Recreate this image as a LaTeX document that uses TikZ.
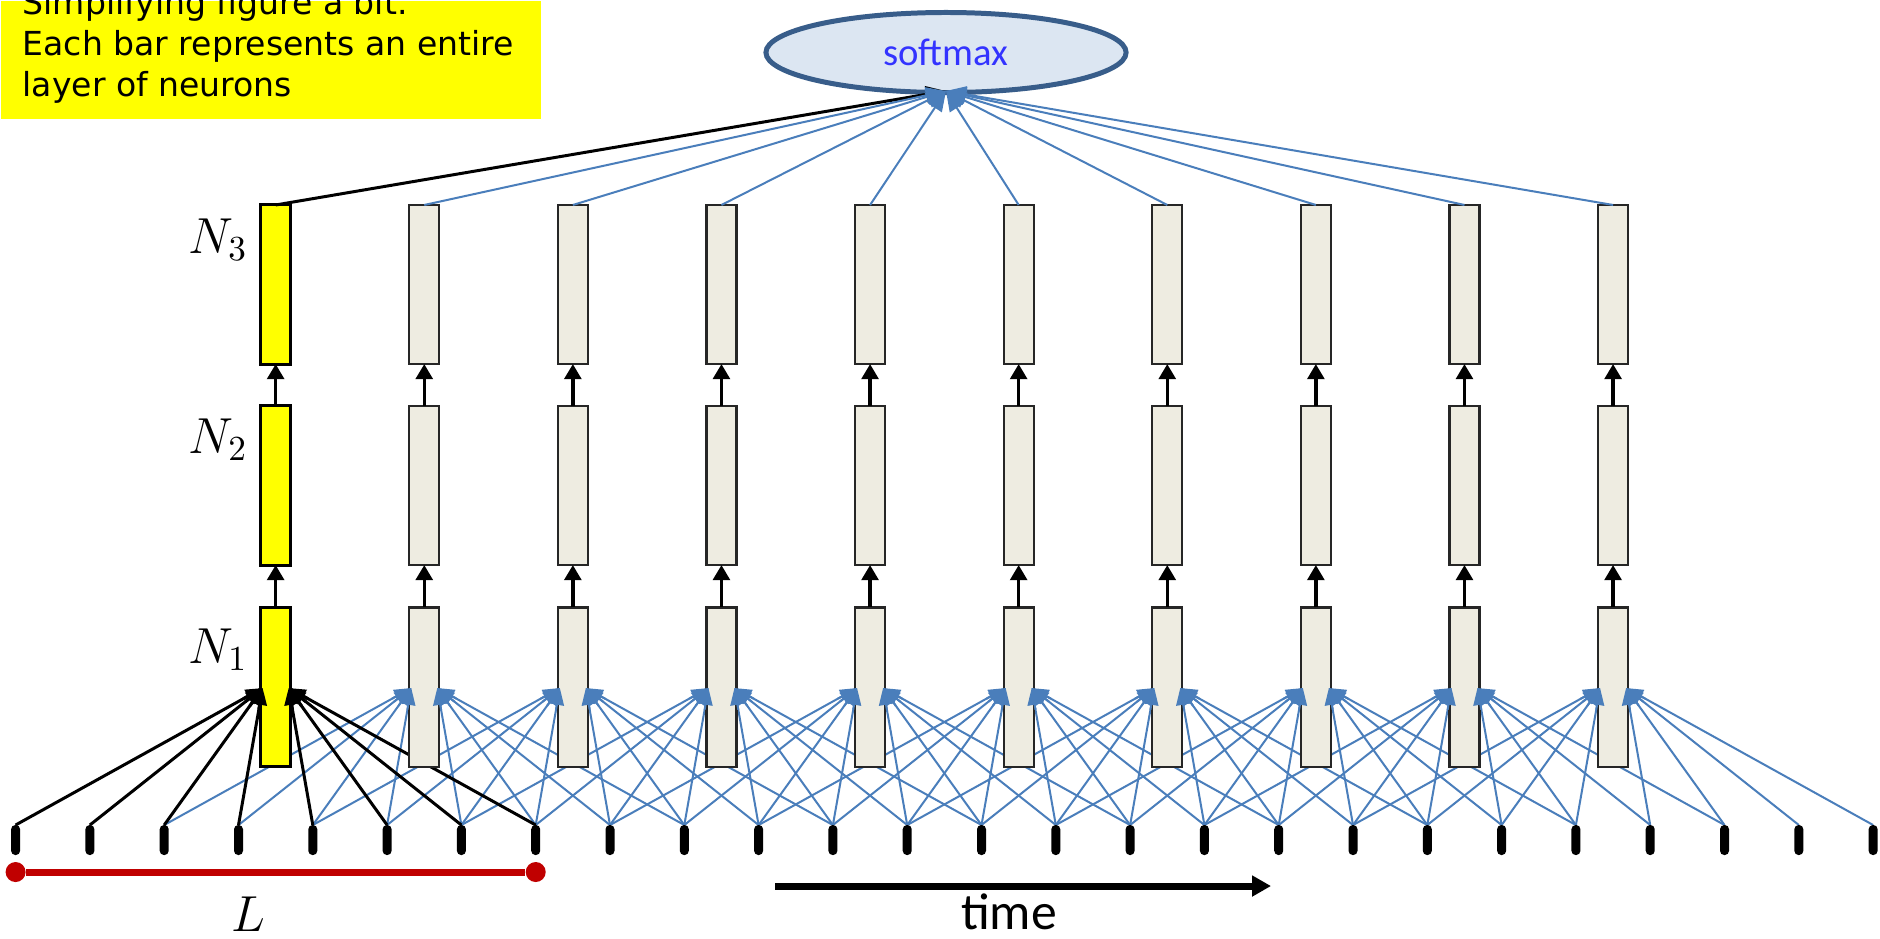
\documentclass[tikz,border=0pt]{standalone}
\usepackage{fontspec}
\newfontfamily\cali{Carlito}
\newfontfamily\comicf{DejaVu Sans}
\usetikzlibrary{arrows.meta,shapes.geometric,calc}
\definecolor{lblue}{RGB}{74,126,187}
\definecolor{smborder}{RGB}{56,93,138}
\definecolor{smfill}{RGB}{220,230,242}
\definecolor{smtext}{RGB}{51,51,255}
\definecolor{bargray}{RGB}{238,236,225}
\definecolor{barborder}{RGB}{38,38,38}
\definecolor{dred}{RGB}{192,0,0}
\definecolor{pyellow}{RGB}{255,255,0}
\pgfdeclarelayer{bg}
\pgfdeclarelayer{lines}
\pgfdeclarelayer{front}
\pgfsetlayers{bg,lines,main,front}
\tikzset{
  tickmark/.style={fill=black, rounded corners=1.2pt, minimum width=0.09cm, minimum height=0.3cm, inner sep=0pt, outer sep=0pt},
  graybar/.style={draw=barborder, fill=bargray, line width=0.6pt, minimum width=0.30cm, minimum height=1.59cm, inner sep=0pt, outer sep=0pt},
  yelbar/.style={draw=black, fill=pyellow, line width=0.85pt, minimum width=0.30cm, minimum height=1.59cm, inner sep=0pt, outer sep=0pt},
  inblue/.style={draw=lblue, line width=0.57pt},
  inblack/.style={draw=black, line width=0.85pt},
  intipblue/.style={-{Triangle[length=4.8pt,width=4pt,color=lblue]}},
  intipblack/.style={-{Triangle[length=4.8pt,width=4pt,color=black]}},
  smblue/.style={draw=lblue, line width=0.57pt, -{Triangle[length=5.7pt,width=4.6pt]}},
  smblack/.style={draw=black, line width=0.85pt, -{Triangle[length=5.7pt,width=4.6pt]}},
  varrow/.style={draw=black, line width=0.95pt, -{Triangle[length=4.3pt,width=4.8pt]}},
  mathlbl/.style={font=\fontsize{14.4}{17}\selectfont, inner sep=0pt},
  comictxt/.style={font=\comicf\fontsize{9.4}{11}\selectfont, inner sep=0pt},
}
\begin{document}
\begin{tikzpicture}[x=0.01cm,y=-0.01cm]
\useasboundingbox (0,0) rectangle (1880,938);

% note box
\begin{pgfonlayer}{bg}
\node[fill=pyellow, minimum width=5.4cm, minimum height=1.18cm, anchor=north west, inner sep=0pt] (note) at (0,0) {};
\end{pgfonlayer}
\node[comictxt, anchor=base west] (note1) at (22,14) {Simplifying figure a bit.};
\node[comictxt, anchor=base west] (note2) at (22,55) {Each bar represents an entire};
\node[comictxt, anchor=base west] (note3) at (22,96) {layer of neurons};

% input ticks
\foreach \k in {0,...,25} \node[tickmark] (t\k) at ({15.6+74.3*\k},840) {};

% bars
\node[yelbar] (b0-1) at (275.65,687) {};
\node[yelbar] (b0-2) at (275.65,485.5) {};
\node[yelbar] (b0-3) at (275.65,284.5) {};
\foreach \i in {1,...,9}{
  \pgfmathsetmacro\bx{275.65+148.6*\i}
  \node[graybar] (b\i-1) at (\bx,687) {};
  \node[graybar] (b\i-2) at (\bx,485.5) {};
  \node[graybar] (b\i-3) at (\bx,284.5) {};
}
\foreach \i in {0,...,9}{
  \pgfmathsetmacro\bx{275.65+148.6*\i}
  \coordinate (inL\i) at ({\bx-13},688);
  \coordinate (inR\i) at ({\bx+13},688);
}

% input connections
\begin{pgfonlayer}{lines}
\foreach \i in {1,...,9}{
  \foreach \j in {0,...,7}{
    \pgfmathtruncatemacro\k{2*\i+\j}
    \ifnum\j<4
      \draw[inblue] (t\k.north) -- (inL\i);
    \else
      \draw[inblue] (t\k.north) -- (inR\i);
    \fi
  }
}
\foreach \j in {0,...,7}{
  \ifnum\j<4
    \draw[inblack] (t\j.north) -- (inL0);
  \else
    \draw[inblack] (t\j.north) -- (inR0);
  \fi
}
\end{pgfonlayer}

\begin{pgfonlayer}{front}
\foreach \i in {1,...,9}{
  \foreach \j in {0,...,7}{
    \pgfmathtruncatemacro\k{2*\i+\j}
    \ifnum\j<4
      \draw[inblue,intipblue] ($(inL\i)!0.22cm!(t\k.north)$) -- (inL\i);
    \else
      \draw[inblue,intipblue] ($(inR\i)!0.22cm!(t\k.north)$) -- (inR\i);
    \fi
  }
}
\foreach \j in {0,...,7}{
  \ifnum\j<4
    \draw[inblack,intipblack] ($(inL0)!0.22cm!(t\j.north)$) -- (inL0);
  \else
    \draw[inblack,intipblack] ($(inR0)!0.22cm!(t\j.north)$) -- (inR0);
  \fi
}
\end{pgfonlayer}

% vertical arrows between layers
\foreach \i in {0,...,9}{
  \draw[varrow] (b\i-1.north) -- (b\i-2.south);
  \draw[varrow] (b\i-2.north) -- (b\i-3.south);
}

% softmax
\node[ellipse, draw=smborder, fill=smfill, line width=1.42pt, minimum width=3.6cm, minimum height=0.8cm, inner sep=0pt, text=smtext, font=\cali\fontsize{11}{13}\selectfont] (sm) at (946,52.5) {softmax};
\coordinate (smin) at (946,91);
\draw[smblack] (b0-3.north) -- (smin);
\foreach \i in {1,...,9} \draw[smblue] (b\i-3.north) -- (smin);

% labels
\node[mathlbl, anchor=base west] (n3) at (188,253) {$N_3$};
\node[mathlbl, anchor=base west] (n2) at (188,453) {$N_2$};
\node[mathlbl, anchor=base west] (n1) at (188,663) {$N_1$};

% receptive field L
\node[circle, fill=dred, minimum size=0.2cm, inner sep=0pt] (la) at (15.6,872) {};
\node[circle, fill=dred, minimum size=0.2cm, inner sep=0pt] (lb) at (535.7,872) {};
\draw[dred, line width=2pt] (la) -- (lb);
\node[mathlbl, anchor=base] (lbl) at (248,931) {$L$};

% time arrow
\coordinate (ts) at (775,886);
\coordinate (te) at (1271,886);
\draw[line width=2pt, -{Triangle[length=5.4pt,width=5.7pt]}] (ts) -- (te);
\node[font=\cali\fontsize{14.7}{17}\selectfont, anchor=base, inner sep=0pt] (timelbl) at (1009,929) {time};
\end{tikzpicture}
\end{document}
